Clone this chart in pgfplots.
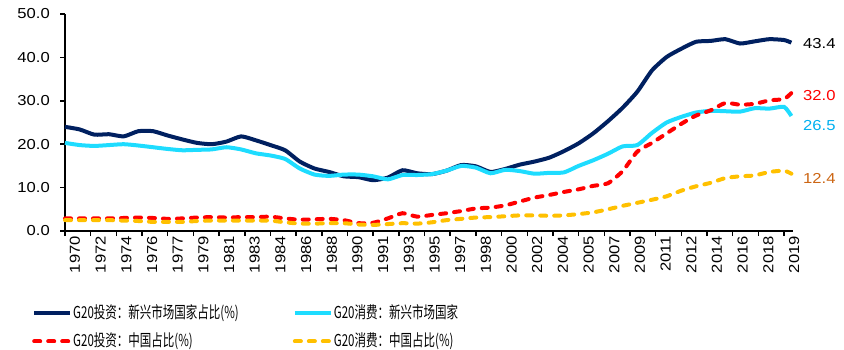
\documentclass[border=0pt]{standalone}
\usepackage{fontspec}
\usepackage{pgfplots}
\usepackage{pgfplotstable}
\pgfplotsset{compat=1.18}
\setmainfont{Liberation Sans}
\newfontfamily\tickfont[FakeStretch=1.15]{Liberation Sans}
\newfontfamily\cjk[FakeStretch=0.7]{Noto Sans CJK SC}
\definecolor{navy}{RGB}{0,32,96}
\definecolor{cyanl}{RGB}{30,220,255}
\definecolor{gold}{RGB}{255,192,0}
\definecolor{lblue}{RGB}{0,176,240}
\definecolor{lorange}{RGB}{204,102,20}

\pgfplotstableread{
year inv cons invcn conscn
1970 24.0 20.3 2.9 2.5
1971 23.4 19.8 2.9 2.5
1972 22.2 19.6 2.9 2.5
1973 22.3 19.8 2.9 2.5
1974 21.8 20.0 3.0 2.4
1975 23.0 19.7 3.1 2.3
1976 23.0 19.3 3.0 2.1
1977 22.0 18.9 2.8 2.1
1978 21.1 18.6 2.9 2.1
1979 20.3 18.7 3.1 2.3
1980 20.0 18.8 3.2 2.4
1981 20.6 19.3 3.1 2.4
1982 21.8 18.8 3.2 2.4
1983 20.9 17.9 3.2 2.4
1984 19.8 17.4 3.3 2.4
1985 18.6 16.6 2.9 2.0
1986 16.0 14.4 2.6 1.7
1987 14.4 13.0 2.7 1.7
1988 13.6 12.7 2.8 1.8
1989 12.6 13.0 2.5 1.8
1990 12.4 13.0 1.8 1.5
1991 11.7 12.6 1.9 1.4
1992 12.3 11.9 2.9 1.6
1993 14.0 12.9 4.1 1.8
1994 13.3 12.9 3.3 1.7
1995 13.1 13.1 3.7 2.0
1996 13.9 13.9 4.1 2.5
1997 15.2 15.0 4.6 2.8
1998 14.9 14.6 5.2 3.1
1999 13.6 13.3 5.4 3.2
2000 14.3 14.1 5.9 3.4
2001 15.3 13.8 6.8 3.6
2002 16.0 13.2 7.7 3.6
2003 16.9 13.4 8.3 3.5
2004 18.4 13.5 9.0 3.6
2005 20.2 15.0 9.6 3.9
2006 22.5 16.3 10.4 4.3
2007 25.3 17.8 11.0 5.0
2008 28.4 19.5 13.8 5.8
2009 32.1 19.8 18.3 6.5
2010 37.0 22.6 20.3 7.2
2011 40.1 25.0 22.5 8.0
2012 42.0 26.3 24.7 9.3
2013 43.6 27.3 26.6 10.3
2014 43.8 27.7 27.8 11.1
2015 44.2 27.6 29.5 12.2
2016 43.2 27.5 29.1 12.6
2017 43.7 28.3 29.3 12.8
2018 44.2 28.2 30.1 13.6
2019 44.0 28.6 30.4 13.9
2019.5 43.4 26.5 31.8 13.2
}\data

\begin{document}
\begin{tikzpicture}
\path[use as bounding box] (-65bp,-119bp) rectangle (779bp,231bp);
\begin{axis}[
  at={(0,0)}, anchor=south west,
  scale only axis, width=728bp, height=217bp,
  xmin=1970, xmax=2019.61, ymin=0, ymax=50,
  clip=false,
  axis x line*=bottom, axis y line*=left,
  axis line style={line width=1.5bp, black, -},
  every tick/.style={line width=1.5bp, black},
  tick align=outside, major tick length=5bp,
  ytick={0,10,20,30,40,50},
  yticklabel style={/pgf/number format/.cd, fixed, fixed zerofill, precision=1, assume math mode=true, /tikz/.cd,
     font=\tickfont\fontsize{14.5}{14.5}\selectfont, inner sep=0pt, xshift=-10bp},
  xtick={1970,1971.75,1973.5,1975.25,1977,1978.75,1980.5,1982.25,1984,1985.75,1987.5,1989.25,1991,1992.75,1994.5,1996.25,1998,1999.75,2001.5,2003.25,2005,2006.75,2008.5,2010.25,2012,2013.75,2015.5,2017.25,2019},
  xticklabels={1970,1972,1974,1976,1977,1979,1981,1983,1984,1986,1988,1990,1991,1993,1995,1997,1998,2000,2002,2004,2005,2007,2009,2011,2012,2014,2016,2018,2019},
  xticklabel style={rotate=90, anchor=east, inner sep=0pt, yshift=-10bp,
     font=\tickfont\fontsize{14.5}{14.5}\selectfont},
  legend columns=2,
  legend cell align=left,
  legend image code/.code={\draw[#1] (0bp,0bp) -- (36bp,0bp);},
  legend style={at={(-0.0453,-0.3387)}, anchor=north west, draw=none, fill=none, inner sep=0pt,
     font=\cjk\fontsize{16.5}{16.5}\selectfont,
     nodes={text height=12.5bp, text depth=3bp, inner sep=1bp},
     row sep=10.5bp,
     /tikz/every even column/.append style={column sep=53bp},
     /tikz/every odd column/.append style={column sep=0bp}},
]
\addplot[navy, line width=4bp, smooth, tension=0.35] table[x=year,y=inv]{\data};
\addlegendentry{G20投资：新兴市场国家占比(\%)}
\addplot[cyanl, line width=4bp, smooth, tension=0.35] table[x=year,y=cons]{\data};
\addlegendentry{G20消费：新兴市场国家}
\addplot[red, line width=4bp, line cap=round, dash pattern=on 6bp off 8bp, smooth, tension=0.35] table[x=year,y=invcn]{\data};
\addlegendentry{G20投资：中国占比(\%)}
\addplot[gold, line width=4bp, line cap=round, dash pattern=on 6bp off 8bp, smooth, tension=0.35] table[x=year,y=conscn]{\data};
\addlegendentry{G20消费：中国占比(\%)}
\node[anchor=west, inner sep=0pt, text=black, font=\tickfont\fontsize{14.5}{14.5}\selectfont] at (axis cs:2020.29,43.3) {43.4};
\node[anchor=west, inner sep=0pt, text=red, font=\tickfont\fontsize{14.5}{14.5}\selectfont] at (axis cs:2020.29,31.3) {32.0};
\node[anchor=west, inner sep=0pt, text=lblue, font=\tickfont\fontsize{14.5}{14.5}\selectfont] at (axis cs:2020.29,24.2) {26.5};
\node[anchor=west, inner sep=0pt, text=lorange, font=\tickfont\fontsize{14.5}{14.5}\selectfont] at (axis cs:2020.29,12.2) {12.4};
\end{axis}
\end{tikzpicture}
\end{document}
